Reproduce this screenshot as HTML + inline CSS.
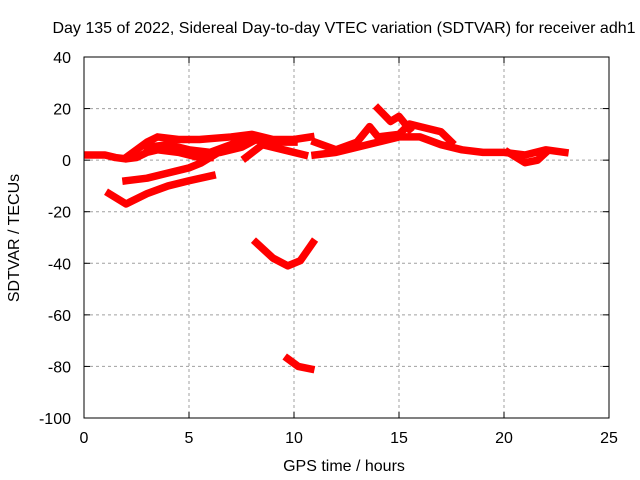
<!DOCTYPE html>
<html><head><meta charset="utf-8"><style>
body{margin:0;background:#fff;}
svg{display:block;font-family:"Liberation Sans",sans-serif;}
</style></head><body>
<svg id="chart" width="640" height="480">
<text x="344" y="33" text-anchor="middle" font-size="16">Day 135 of 2022, Sidereal Day-to-day VTEC variation (SDTVAR) for receiver adh1</text>
<g id="grid"></g><g id="axes"></g><g id="series"></g>
<text x="344" y="471" text-anchor="middle" font-size="16">GPS time / hours</text>
<text transform="translate(19,238) rotate(-90)" text-anchor="middle" font-size="16">SDTVAR / TECUs</text>
</svg>
<script>
const xTicks=[0,5,10,15,20,25];
const yTicks=[40,20,0,-20,-40,-60,-80,-100];
const seriesLowBand=[[0.2,2],[1,2],[1.5,1],[2,0.5],[2.5,1],[3,3],[3.5,4],[4.5,3],[5.5,1],[6,1]];
const seriesTopBand=[[2,1],[3,7],[3.5,9],[4.5,8],[5.5,8],[7,9],[8,10],[9,8],[10,8],[10.8,9]];
const seriesMid=[[3,5],[4,6],[5,4],[6,3],[7,6],[7.5,8],[8,8],[9,7],[10,7]];
const seriesMid2=[[5.5,2],[6.5,3],[7.5,5],[8.2,8],[9,7]];
const seriesDip=[[7.7,1],[8.5,6],[9.5,4],[10.5,2]];
const seriesNeg8=[[2,-8],[3,-7],[4,-5],[5,-3],[5.6,-1],[6.2,2]];
const seriesNeg17=[[1.2,-13],[2,-17],[3,-13],[4,-10],[5,-8],[6.1,-6]];
const seriesV=[[8.2,-32],[9,-38],[9.7,-41],[10.3,-39],[10.9,-32]];
const seriesBottom=[[9.7,-77],[10.2,-80],[10.8,-81]];
const seriesRight=[[11,2],[12,3],[13,5],[14,7],[15,9],[16,9],[17,6],[18,4],[19,3],[20,3],[21,2],[22,4],[22.9,3]];
const seriesRightUp=[[11,7],[12,4],[13,7],[13.6,13],[14,9],[15,10],[15.5,14],[16,13],[17,11],[17.5,7]];
const seriesPeak=[[14,20],[14.6,15],[15,17],[15.5,12]];
const seriesLoop=[[20.2,3],[21,-1],[21.6,0],[22,3]];
const allSeries=[seriesLowBand,seriesTopBand,seriesMid,seriesMid2,seriesDip,seriesNeg8,seriesNeg17,seriesV,seriesBottom,seriesRight,seriesRightUp,seriesPeak,seriesLoop];
const X=v=>84+v*21, Y=v=>57+(40-v)*361/140;
const NS="http://www.w3.org/2000/svg";
const mk=(t,a,p)=>{const e=document.createElementNS(NS,t);for(const k in a)e.setAttribute(k,a[k]);p.appendChild(e);return e;};
const grid=document.getElementById('grid'),axes=document.getElementById('axes'),ser=document.getElementById('series');
xTicks.forEach(t=>{
 if(t>0&&t<25){const l=mk('line',{x1:X(t),x2:X(t),y1:57,y2:418,stroke:'#a0a0a0','stroke-dasharray':'3,3'},grid);
 
 }
 const tx=mk('text',{x:X(t),y:443,'text-anchor':'middle','font-size':16},axes);tx.textContent=t;
 
 
 mk('line',{x1:X(t),x2:X(t),y1:418,y2:412,stroke:'#000'},axes);
 mk('line',{x1:X(t),x2:X(t),y1:57,y2:63,stroke:'#000'},axes);
});
yTicks.forEach(t=>{
 if(t<40&&t>-100){const l=mk('line',{x1:84,x2:609,y1:Y(t),y2:Y(t),stroke:'#a0a0a0','stroke-dasharray':'3,3'},grid);
 
 }
 const tx=mk('text',{x:71,y:Y(t)+6,'text-anchor':'end','font-size':16},axes);tx.textContent=t;
 
 
 mk('line',{x1:84,x2:90,y1:Y(t),y2:Y(t),stroke:'#000'},axes);
 mk('line',{x1:603,x2:609,y1:Y(t),y2:Y(t),stroke:'#000'},axes);
});
const fr=mk('rect',{x:84,y:57,width:525,height:361,fill:'none',stroke:'#000'},axes);


allSeries.forEach(s=>{
 const p=mk('polyline',{points:s.map(d=>X(d[0])+','+Y(d[1])).join(' '),fill:'none',stroke:'#ff0000','stroke-width':7.5,'stroke-linejoin':'round','stroke-linecap':'square'},ser);
 
 
});
</script>
</body></html>
